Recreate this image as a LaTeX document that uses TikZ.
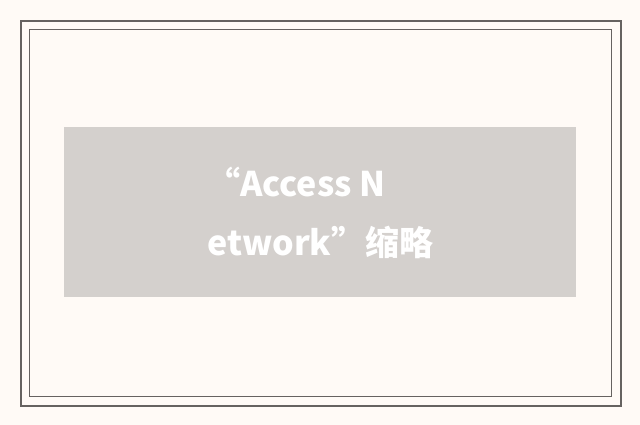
\documentclass[tikz,border=0pt]{standalone}
\usepackage{fontspec}
\newfontfamily\cjk{Noto Sans CJK SC}
\definecolor{paper}{HTML}{FFFAF6}
\definecolor{frame}{HTML}{666260}
\definecolor{panel}{HTML}{D4D0CD}
\tikzset{caption/.style = {anchor = base west, inner sep = 0, text = white, font = \cjk\bfseries\fontsize{34}{40}\selectfont}}

\begin{document}
\begin{tikzpicture}[x = 1pt, y = 1pt]
\fill[paper] (0, 0) rectangle (640, 425);
\draw[frame, line width = 2] (21, 19) rectangle (621, 404);
\draw[frame, line width = 1] (29.5, 28.5) rectangle (611.5, 395.5);
\fill[panel] (64, 128) rectangle (576, 298);
\node[caption] (line1) at (206, 228) {“Access N};
\node[caption] (line2) at (207, 169) {etwork”缩略};
\end{tikzpicture}
\end{document}
